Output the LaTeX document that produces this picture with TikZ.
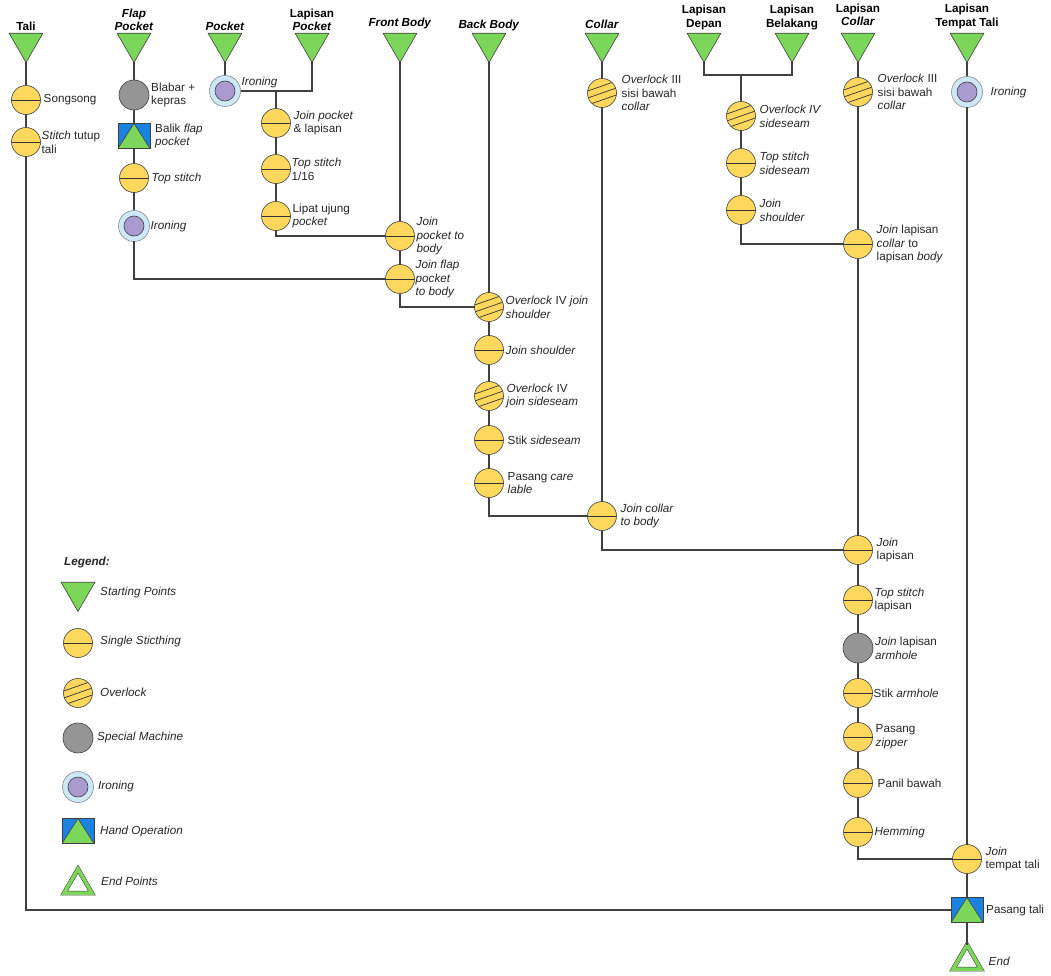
\documentclass[tikz,border=0pt]{standalone}
\usepackage{fontspec}
\setmainfont{Liberation Sans}
\usetikzlibrary{shapes.geometric,positioning}

\definecolor{stitchyellow}{HTML}{FDD85D}
\definecolor{startgreen}{HTML}{7CD65A}
\definecolor{handblue}{HTML}{1A82E0}
\definecolor{specialgray}{HTML}{959595}
\definecolor{ironpurple}{HTML}{A99ACF}
\definecolor{ironblue}{HTML}{CDE8F7}
\definecolor{linegray}{HTML}{404040}

\tikzset{
  base/.style={draw=black!75, line width=0.6pt, inner sep=0pt, outer sep=0pt},
  startpt/.style={base, regular polygon, regular polygon sides=3, shape border rotate=180, minimum size=39pt, fill=startgreen},
  endpt/.style={regular polygon, regular polygon sides=3, minimum size=32pt, inner sep=0pt, draw=black!75, line width=0.5pt, double=startgreen, double distance=3.5pt, fill=white},
  stitch/.style={base, circle, minimum size=29pt, fill=stitchyellow,
    path picture={\draw[black!80, line width=0.8pt] (path picture bounding box.west) -- (path picture bounding box.east);}},
  overlock/.style={base, circle, minimum size=29pt, fill=stitchyellow,
    path picture={\foreach \ofs in {-7,0,7}
      \draw[black!80, line width=0.7pt, shift={(path picture bounding box.center)}] (-16pt,{\ofs pt-5.6pt}) -- (16pt,{\ofs pt+5.6pt});}},
  special/.style={base, circle, minimum size=30pt, fill=specialgray},
  ironing/.style={base, circle, minimum size=31pt, fill=ironblue, draw=black!45,
    path picture={\draw[black!75, fill=ironpurple, line width=0.6pt] (path picture bounding box.center) circle (10pt);}},
  handop/.style={base, rectangle, minimum width=32pt, minimum height=25pt, fill=handblue,
    path picture={\filldraw[fill=startgreen, draw=black!75, line width=0.6pt] (path picture bounding box.south west) -- (path picture bounding box.north) -- (path picture bounding box.south east) -- cycle;}},
  title/.style={align=center, inner sep=0pt, font=\fontsize{11.7}{13.8}\selectfont\bfseries},
  txt/.style={align=left, inner sep=0pt, text=black!85},
  flow/.style={draw=linegray, line width=1.2pt}
}

\begin{document}
\begin{tikzpicture}[x=1pt, y=-1pt, font=\fontsize{11.7}{13.8}\selectfont]
\useasboundingbox (0,0) rectangle (1051,976);

% starting points
\node[startpt] (tali) at (26,43) {};
\node[startpt] (fp) at (134,43) {};
\node[startpt] (pk) at (225,43) {};
\node[startpt] (lpk) at (312,43) {};
\node[startpt] (fb) at (400,43) {};
\node[startpt] (bb) at (489,43) {};
\node[startpt] (col) at (602,43) {};
\node[startpt] (ld) at (704,43) {};
\node[startpt] (lb) at (792,43) {};
\node[startpt] (lcol) at (858,43) {};
\node[startpt] (ltt) at (967,43) {};

\node[title, above=2pt of tali] (taliT) {Tali};
\node[title, above=2pt of fp] (fpT) {\textit{Flap}\\\textit{Pocket}};
\node[title, above=2pt of pk] (pkT) {\textit{Pocket}};
\node[title, above=2pt of lpk] (lpkT) {Lapisan\\\textit{Pocket}};
\node[title, above=4pt of fb] (fbT) {\textit{Front Body}};
\node[title, above=2pt of bb] (bbT) {\textit{Back Body}};
\node[title, above=4pt of col] (colT) {\textit{Collar}};
\node[title, above=3pt of ld] (ldT) {Lapisan\\Depan};
\node[title, above=3pt of lb] (lbT) {Lapisan\\Belakang};
\node[title, above=7pt of lcol] (lcolT) {Lapisan\\\textit{Collar}};
\node[title, above=4pt of ltt] (lttT) {Lapisan\\Tempat Tali};

% operations
\node[stitch] (ss) at (26,100) {};
\node[stitch] (stt) at (26,142) {};
\node[special] (bk) at (134,95) {};
\node[handop] (bfp) at (134,136) {};
\node[stitch] (tsf) at (134,178) {};
\node[ironing] (fir) at (134,226) {};
\node[ironing] (pir) at (225,91) {};
\coordinate (pj) at (276,91);
\node[stitch] (jpl) at (276,123) {};
\node[stitch] (tsp) at (276,169) {};
\node[stitch] (lup) at (276,216) {};
\node[stitch] (jpb) at (400,236) {};
\node[stitch] (jfp) at (400,279) {};
\node[overlock] (ovj) at (489,307) {};
\node[stitch] (jsb) at (489,350) {};
\node[overlock] (ovjs) at (489,396) {};
\node[stitch] (sts) at (489,440) {};
\node[stitch] (pcl) at (489,483) {};
\node[overlock] (ovc) at (602,93) {};
\node[stitch] (jcb) at (602,516) {};
\coordinate (ldb) at (741,75);
\node[overlock] (ovs) at (741,116) {};
\node[stitch] (tss) at (741,163) {};
\node[stitch] (jsd) at (741,210) {};
\node[overlock] (ovl) at (858,92) {};
\node[stitch] (jlc) at (858,244) {};
\node[stitch] (jl) at (858,550) {};
\node[stitch] (tsl) at (858,600) {};
\node[special] (jla) at (858,648) {};
\node[stitch] (sa) at (858,693) {};
\node[stitch] (pz) at (858,737) {};
\node[stitch] (pb) at (858,783) {};
\node[stitch] (hem) at (858,832) {};
\node[ironing] (irt) at (967,92) {};
\node[stitch] (jtt) at (967,859) {};
\node[handop] (pt) at (967,910) {};
\node[endpt] (fin) at (967,961) {};

% connectors
\draw[flow] (tali) -- (ss) -- (stt) |- (pt);
\draw[flow] (fp) -- (bk) -- (bfp) -- (tsf) -- (fir) |- (jfp);
\draw[flow] (pk) -- (pir) -| (lpk);
\draw[flow] (pj) -- (jpl) -- (tsp) -- (lup) |- (jpb);
\draw[flow] (fb) -- (jpb) -- (jfp) |- (ovj);
\draw[flow] (bb) -- (ovj) -- (jsb) -- (ovjs) -- (sts) -- (pcl) |- (jcb);
\draw[flow] (col) -- (ovc) -- (jcb) |- (jl);
\draw[flow] (ld) |- (ldb) -| (lb);
\draw[flow] (ldb) -- (ovs) -- (tss) -- (jsd) |- (jlc);
\draw[flow] (lcol) -- (ovl) -- (jlc) -- (jl) -- (tsl) -- (jla) -- (sa) -- (pz) -- (pb) -- (hem) |- (jtt);
\draw[flow] (ltt) -- (irt) -- (jtt) -- (pt) -- (fin);

% labels
\node[txt, right=3pt of ss] (ssL) {Songsong};
\node[txt, right=1pt of stt] (sttL) {\textit{Stitch} tutup\\tali};
\node[txt, right=2pt of bk] (bkL) {Blabar +\\kepras};
\node[txt, right=5pt of bfp] (bfpL) {Balik \textit{flap}\\\textit{pocket}};
\node[txt, right=3pt of tsf] (tsfL) {\textit{Top stitch}};
\node[txt, right=1pt of fir] (firL) {\textit{Ironing}};
\node[txt, anchor=base west] (pirL) at ([xshift=1pt,yshift=5pt]pir.east) {\textit{Ironing}};
\node[txt, right=3pt of jpl] (jplL) {\textit{Join pocket}\\\& lapisan};
\node[txt, right=1pt of tsp] (tspL) {\textit{Top stitch}\\1/16};
\node[txt, right=2pt of lup] (lupL) {Lipat ujung\\\textit{pocket}};
\node[txt, right=2pt of jpb] (jpbL) {\textit{Join}\\\textit{pocket to}\\\textit{body}};
\node[txt, right=1pt of jfp] (jfpL) {\textit{Join flap}\\\textit{pocket}\\\textit{to body}};
\node[txt, right=2pt of ovj] (ovjL) {\textit{Overlock} IV \textit{join}\\\textit{shoulder}};
\node[txt, right=2pt of jsb] (jsbL) {\textit{Join shoulder}};
\node[txt, right=3pt of ovjs] (ovjsL) {\textit{Overlock} IV\\\textit{join sideseam}};
\node[txt, right=4pt of sts] (stsL) {Stik \textit{sideseam}};
\node[txt, right=4pt of pcl] (pclL) {Pasang \textit{care}\\\textit{lable}};
\node[txt, right=5pt of ovc] (ovcL) {\textit{Overlock} III\\sisi bawah\\\textit{collar}};
\node[txt, right=4pt of jcb] (jcbL) {\textit{Join collar}\\\textit{to body}};
\node[txt, right=4pt of ovs] (ovsL) {\textit{Overlock IV}\\\textit{sideseam}};
\node[txt, right=4pt of tss] (tssL) {\textit{Top stitch}\\\textit{sideseam}};
\node[txt, right=4pt of jsd] (jsdL) {\textit{Join}\\\textit{shoulder}};
\node[txt, right=5pt of ovl] (ovlL) {\textit{Overlock} III\\sisi bawah\\\textit{collar}};
\node[txt, right=4pt of jlc] (jlcL) {\textit{Join} lapisan\\\textit{collar} to\\lapisan \textit{body}};
\node[txt, right=8pt of irt] (irtL) {\textit{Ironing}};
\node[txt, right=4pt of jl] (jlL) {\textit{Join}\\lapisan};
\node[txt, right=2pt of tsl] (tslL) {\textit{Top stitch}\\lapisan};
\node[txt, right=2pt of jla] (jlaL) {\textit{Join} lapisan\\\textit{armhole}};
\node[txt, right=1pt of sa] (saL) {Stik \textit{armhole}};
\node[txt, right=3pt of pz] (pzL) {Pasang\\\textit{zipper}};
\node[txt, right=5pt of pb] (pbL) {Panil bawah};
\node[txt, right=2pt of hem] (hemL) {\textit{Hemming}};
\node[txt, right=4pt of jtt] (jttL) {\textit{Join}\\tempat tali};
\node[txt, right=3pt of pt] (ptL) {Pasang tali};
\node[txt, right=12pt of fin] (finL) {\textit{End}};

% legend
\node[txt, anchor=west, font=\fontsize{11.7}{13.8}\selectfont\bfseries\itshape] (legT) at (64,562) {Legend:};
\node[startpt] (lg1) at (78,592) {};
\node[stitch] (lg2) at (78,643) {};
\node[overlock] (lg3) at (78,693) {};
\node[special] (lg4) at (78,738) {};
\node[ironing] (lg5) at (78,787) {};
\node[handop] (lg6) at (78,831) {};
\node[endpt] (lg7) at (78,885) {};
\node[txt, anchor=west] (lg1L) at (100,592) {\textit{Starting Points}};
\node[txt, anchor=west] (lg2L) at (100,641) {\textit{Single Sticthing}};
\node[txt, anchor=west] (lg3L) at (100,692) {\textit{Overlock}};
\node[txt, anchor=west] (lg4L) at (97,737) {\textit{Special Machine}};
\node[txt, anchor=west] (lg5L) at (98,786) {\textit{Ironing}};
\node[txt, anchor=west] (lg6L) at (100,831) {\textit{Hand Operation}};
\node[txt, anchor=west] (lg7L) at (101,881) {\textit{End Points}};
\end{tikzpicture}
\end{document}
